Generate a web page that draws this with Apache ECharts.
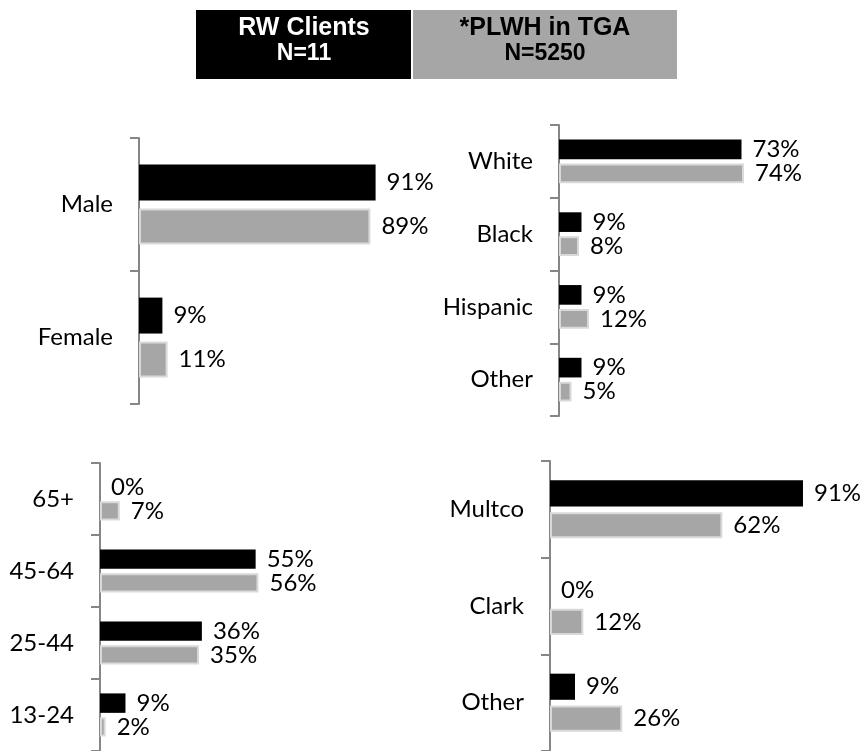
<!DOCTYPE html>
<html>
<head>
<meta charset="utf-8">
<script src="https://cdn.jsdelivr.net/npm/echarts@6/dist/echarts.min.js"></script>
<style>
  html, body { margin: 0; padding: 0; background: #fff; }
  #main { width: 865px; height: 751px; }
</style>
</head>
<body>
<div id="main"></div>
<script>
// categories per panel
var genderCats = ['Male', 'Female'];
var raceCats = ['White', 'Black', 'Hispanic', 'Other'];
var ageCats = ['65+', '45-64', '25-44', '13-24'];
var countyCats = ['Multco', 'Clark', 'Other'];

// RW Clients (black) vs PLWH in TGA (gray), percent
var genderRW = [91, 9];
var genderTGA = [89, 11];
var raceRW = [73, 9, 9, 9];
var raceTGA = [74, 8, 12, 5];
var ageRW = [0, 55, 36, 9];
var ageTGA = [7, 56, 35, 2];
var countyRW = [91, 0, 9];
var countyTGA = [62, 12, 26];

var FONT = 'Lato';
var axisGray = '#868686';

var chart = echarts.init(document.getElementById('main'));

// one panel = grid + x + y
var grids = [
  { left: 139, top: 138, width: 260, height: 266 },
  { left: 559, top: 125, width: 250, height: 291 },
  { left: 100, top: 463, width: 283, height: 288 },
  { left: 550, top: 461, width: 278, height: 293 }
];
var cats = [genderCats, raceCats, ageCats, countyCats];
var rw = [genderRW, raceRW, ageRW, countyRW];
var tga = [genderTGA, raceTGA, ageTGA, countyTGA];

var xAxes = [], yAxes = [], series = [];
for (var i = 0; i < 4; i++) {
  xAxes.push({ type: 'value', gridIndex: i, min: 0, max: 100, show: false });
  yAxes.push({
    type: 'category', gridIndex: i, data: cats[i], inverse: true,
    axisLine: { show: true, lineStyle: { color: axisGray, width: 2 } },
    axisTick: { show: true, length: 9, lineStyle: { color: axisGray, width: 2 } },
    axisLabel: { color: '#000', fontFamily: FONT, fontSize: 24, margin: 26 }
  });
  var lbl = {
    show: true, position: 'right', distance: 11,
    color: '#000', fontFamily: FONT, fontSize: 24,
    formatter: '{c}%'
  };
  series.push({
    type: 'bar', xAxisIndex: i, yAxisIndex: i, data: rw[i],
    barCategoryGap: '40%', barGap: '22%',
    itemStyle: { color: '#000' },
    label: lbl, silent: true
  });
  series.push({
    type: 'bar', xAxisIndex: i, yAxisIndex: i, data: tga[i],
    barCategoryGap: '40%', barGap: '22%',
    itemStyle: { color: '#a6a6a6', borderColor: '#d9d9d9', borderWidth: 2 },
    label: lbl, silent: true
  });
}

chart.setOption({
  animation: false,
  grid: grids,
  xAxis: xAxes,
  yAxis: yAxes,
  series: series,
  graphic: [
    { type: 'rect', shape: { x: 196, y: 10, width: 215, height: 69 }, style: { fill: '#000' } },
    { type: 'rect', shape: { x: 413, y: 10, width: 264, height: 69 }, style: { fill: '#a6a6a6' } },
    { type: 'text', x: 304, y: 28, style: { text: 'RW Clients', fill: '#fff', font: 'bold 25px "Liberation Sans", Arial', textAlign: 'center', textVerticalAlign: 'middle' } },
    { type: 'text', x: 304, y: 54, style: { text: 'N=11', fill: '#fff', font: 'bold 23px "Liberation Sans", Arial', textAlign: 'center', textVerticalAlign: 'middle' } },
    { type: 'text', x: 545, y: 28, style: { text: '*PLWH in TGA', fill: '#000', font: 'bold 25px "Liberation Sans", Arial', textAlign: 'center', textVerticalAlign: 'middle' } },
    { type: 'text', x: 545, y: 54, style: { text: 'N=5250', fill: '#000', font: 'bold 23px "Liberation Sans", Arial', textAlign: 'center', textVerticalAlign: 'middle' } }
  ]
});
</script>
</body>
</html>
